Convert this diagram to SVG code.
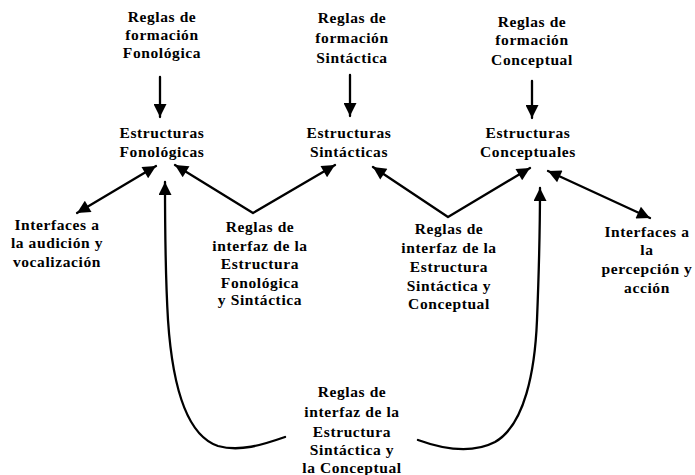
<svg xmlns="http://www.w3.org/2000/svg" width="695" height="475" viewBox="0 0 695 475">
<style>
text{font-family:"Liberation Serif","Times New Roman",serif;font-weight:bold;font-size:15.5px;fill:#000;text-anchor:middle;letter-spacing:0.6px}
.c{fill:none;stroke:#000;stroke-width:2.3;stroke-linejoin:round;stroke-linecap:round}
</style>
<defs>
<marker id="ah" viewBox="0 0 10 10" refX="10" refY="5" markerWidth="18" markerHeight="13" markerUnits="userSpaceOnUse" orient="auto-start-reverse">
<path d="M0,0 L10,5 L0,10 Z" fill="#000"/>
</marker>
</defs>
<rect width="695" height="475" fill="#fff"/>
<g id="connectors">
<path class="c" d="M160,77 L160,117" marker-end="url(#ah)"/>
<path class="c" d="M350,75 L350,116" marker-end="url(#ah)"/>
<path class="c" d="M532,81 L532,118" marker-end="url(#ah)"/>
<path class="c" d="M77,213 L156,166" marker-start="url(#ah)" marker-end="url(#ah)"/>
<path class="c" d="M175,165 L253,213 L335,165" marker-start="url(#ah)" marker-end="url(#ah)"/>
<path class="c" d="M373,167 L448,217 L530,168" marker-start="url(#ah)" marker-end="url(#ah)"/>
<path class="c" d="M548,171 L650,218" marker-start="url(#ah)" marker-end="url(#ah)"/>
<path class="c" d="M285,437 C262,445 240,452 218,446 C185,435 172,380 168,320 C165,270 165,220 165,182" marker-end="url(#ah)"/>
<path class="c" d="M418,440 C440,448 470,455 495,442 C525,425 535,370 537,320 C539,270 540,230 540,188" marker-end="url(#ah)"/>
</g>
<g id="reglas-formacion-fonologica"><text x="162" y="22">Reglas de</text><text x="162" y="40">formación</text><text x="162" y="58">Fonológica</text></g>
<g id="reglas-formacion-sintactica"><text x="352" y="23">Reglas de</text><text x="352" y="43">formación</text><text x="352" y="63">Sintáctica</text></g>
<g id="reglas-formacion-conceptual"><text x="532" y="27">Reglas de</text><text x="532" y="45">formación</text><text x="532" y="65">Conceptual</text></g>
<g id="estructuras-fonologicas"><text x="162" y="138">Estructuras</text><text x="162" y="157">Fonológicas</text></g>
<g id="estructuras-sintacticas"><text x="349" y="138">Estructuras</text><text x="349" y="157">Sintácticas</text></g>
<g id="estructuras-conceptuales"><text x="528" y="138">Estructuras</text><text x="528" y="157">Conceptuales</text></g>
<g id="interfaces-audicion"><text x="57" y="230">Interfaces a</text><text x="57" y="248">la audición y</text><text x="57" y="267">vocalización</text></g>
<g id="interfaz-fon-sint"><text x="260" y="232">Reglas de</text><text x="260" y="251">interfaz de la</text><text x="260" y="269">Estructura</text><text x="260" y="288">Fonológica</text><text x="260" y="305">y Sintáctica</text></g>
<g id="interfaz-sint-conc"><text x="449" y="234">Reglas de</text><text x="449" y="253">interfaz de la</text><text x="449" y="272">Estructura</text><text x="449" y="291">Sintáctica y</text><text x="449" y="309">Conceptual</text></g>
<g id="interfaces-percepcion"><text x="647" y="237">Interfaces a</text><text x="647" y="255">la</text><text x="647" y="274">percepción y</text><text x="647" y="293">acción</text></g>
<g id="interfaz-sint-la-conc"><text x="352" y="397">Reglas de</text><text x="352" y="417">interfaz de la</text><text x="352" y="437">Estructura</text><text x="352" y="455">Sintáctica y</text><text x="352" y="473">la Conceptual</text></g>
</svg>
